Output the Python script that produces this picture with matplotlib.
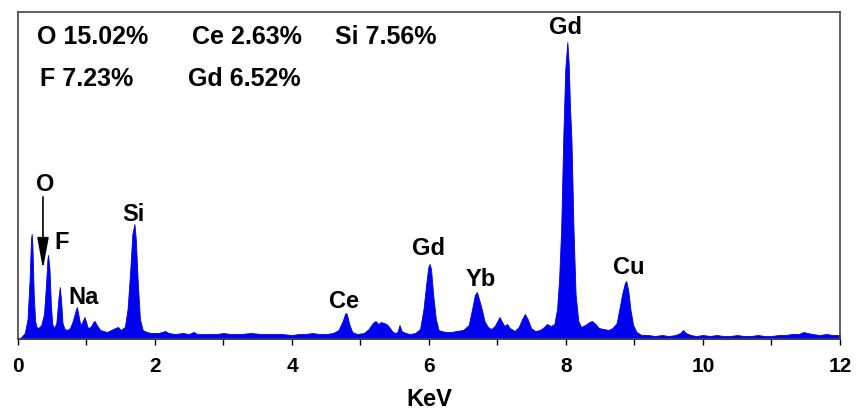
import matplotlib.pyplot as plt
import numpy as np

plt.rcParams['font.family'] = ['Liberation Sans', 'DejaVu Sans']
plt.rcParams['font.weight'] = 'bold'

# EDS spectrum (energy in KeV, counts arbitrary)
energy = [0.00, 0.05, 0.10, 0.14, 0.17, 0.19, 0.20, 0.21, 0.23, 0.25, 0.27, 0.30, 0.34, 0.38, 0.41, 0.43, 0.44,
          0.46, 0.48, 0.50, 0.53, 0.56, 0.59, 0.61, 0.63, 0.65, 0.68, 0.72, 0.76, 0.80, 0.84, 0.86, 0.88, 0.91,
          0.94, 0.97, 0.99, 1.02, 1.06, 1.10, 1.12, 1.15, 1.20, 1.25, 1.30, 1.36, 1.42, 1.46, 1.50, 1.56, 1.60,
          1.64, 1.67, 1.70, 1.72, 1.75, 1.78, 1.82, 1.88, 1.95, 2.05, 2.10, 2.15, 2.20, 2.30, 2.40, 2.50, 2.56,
          2.62, 2.75, 2.90, 3.00, 3.10, 3.25, 3.40, 3.55, 3.70, 3.85, 4.00, 4.10, 4.20, 4.30, 4.40, 4.50, 4.60,
          4.68, 4.74, 4.78, 4.80, 4.84, 4.88, 4.95, 5.05, 5.12, 5.18, 5.22, 5.26, 5.30, 5.34, 5.38, 5.42, 5.46,
          5.50, 5.54, 5.57, 5.60, 5.66, 5.72, 5.80, 5.87, 5.92, 5.96, 5.99, 6.01, 6.03, 6.06, 6.10, 6.14, 6.18,
          6.25, 6.32, 6.40, 6.50, 6.58, 6.63, 6.67, 6.70, 6.73, 6.77, 6.81, 6.86, 6.91, 6.96, 7.00, 7.03, 7.06,
          7.10, 7.14, 7.18, 7.25, 7.31, 7.36, 7.40, 7.44, 7.49, 7.55, 7.62, 7.68, 7.72, 7.78, 7.83, 7.87, 7.90,
          7.93, 7.96, 7.99, 8.02, 8.04, 8.06, 8.08, 8.11, 8.14, 8.18, 8.22, 8.28, 8.34, 8.38, 8.43, 8.48, 8.55,
          8.62, 8.68, 8.74, 8.78, 8.82, 8.86, 8.88, 8.91, 8.94, 8.98, 9.03, 9.10, 9.20, 9.30, 9.40, 9.50, 9.60,
          9.67, 9.71, 9.75, 9.82, 9.90, 10.00, 10.10, 10.20, 10.30, 10.40, 10.50, 10.60, 10.70, 10.80, 10.90,
          11.00, 11.10, 11.20, 11.30, 11.40, 11.47, 11.52, 11.60, 11.70, 11.80, 11.90, 12.00]
counts = [0, 20, 60, 200, 600, 1000, 1050, 950, 450, 180, 120, 110, 140, 250, 550, 800, 840,
          700, 350, 150, 110, 160, 400, 520, 380, 160, 100, 90, 110, 180, 280, 320, 250, 140,
          170, 220, 180, 110, 120, 170, 180, 140, 90, 80, 70, 90, 110, 120, 90, 120, 300,
          700, 1050, 1150, 1000, 550, 200, 90, 70, 60, 60, 70, 80, 60, 50, 60, 50, 70,
          50, 50, 50, 60, 50, 50, 60, 50, 50, 50, 40, 50, 50, 60, 50, 50, 60,
          90, 180, 260, 250, 140, 70, 50, 60, 100, 160, 180, 150, 170, 160, 150, 120, 80,
          60, 70, 140, 80, 60, 50, 60, 100, 300, 550, 720, 750, 700, 450, 200, 90, 80,
          70, 70, 80, 90, 140, 300, 440, 470, 400, 300, 180, 120, 100, 130, 180, 220, 180,
          130, 150, 110, 80, 120, 200, 250, 200, 110, 80, 90, 120, 150, 130, 150, 300, 600,
          1100, 2000, 2700, 2970, 2750, 2300, 2000, 1100, 450, 180, 120, 140, 170, 180, 150, 110, 100,
          90, 110, 160, 300, 450, 560, 580, 480, 300, 140, 70, 40, 40, 30, 40, 30, 40,
          60, 90, 60, 40, 30, 40, 30, 40, 30, 30, 40, 30, 30, 40, 30,
          30, 40, 40, 50, 50, 70, 60, 50, 40, 50, 40, 40]

# peak labels placed at (energy, height)
peak_labels = ['O', 'F', 'Na', 'Si', 'Ce', 'Gd', 'Yb', 'Gd', 'Cu']
peak_x = [0.39, 0.63, 0.96, 1.68, 4.76, 6.00, 6.76, 8.00, 8.92]
peak_y = [1550, 980, 430, 1250, 390, 920, 610, 3120, 730]

composition = ['O 15.02%', 'Ce 2.63%', 'Si 7.56%', 'F 7.23%', 'Gd 6.52%']
comp_pos = [(0.023, 0.927), (0.2117, 0.927), (0.3856, 0.927), (0.0268, 0.798), (0.2068, 0.798)]

fig = plt.figure(figsize=(8.6, 4.14), dpi=100)
ax = fig.add_axes([0.0209, 0.1787, 0.9558, 0.79])

ax.fill_between(energy, counts, 0, color='#0000f0', linewidth=0.6, edgecolor='#0000f0')

for lab, x, y in zip(peak_labels, peak_x, peak_y):
    ax.text(x, y, lab, ha='center', va='center', fontsize=17, fontweight='bold')

# arrow from the O label down to its peak
ax.annotate('', xy=(0.365, 700), xytext=(0.365, 1420),
            arrowprops=dict(arrowstyle='-|>,head_length=1.2,head_width=0.22', color='black', lw=1.2,
                            mutation_scale=16, shrinkA=0, shrinkB=0))

for txt, (px, py) in zip(composition, comp_pos):
    ax.text(px, py, txt, transform=ax.transAxes, ha='left', va='center', fontsize=18, fontweight='bold')

ax.set_xlim(0, 12)
ax.set_ylim(0, 3270)
ax.set_xticks(np.arange(0, 13, 2))
ax.set_xticks(np.arange(1, 12, 2), minor=True)
ax.set_yticks([])
ax.tick_params(axis='x', which='both', direction='out', length=4, width=1, labelsize=15, pad=8)
for lbl in ax.get_xticklabels():
    lbl.set_fontweight('bold')
ax.set_xlabel('KeV', fontsize=17, fontweight='bold', labelpad=9)
for sp in ax.spines.values():
    sp.set_color('#444444')
    sp.set_linewidth(1.2)

fig.savefig('out.png', dpi=100)
